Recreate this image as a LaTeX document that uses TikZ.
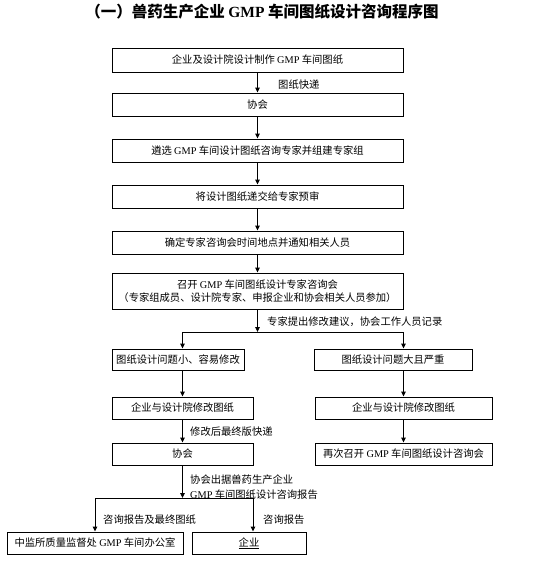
\documentclass[tikz,border=0pt]{standalone}
\usepackage{fontspec}
\setmainfont{Noto Sans CJK SC}
\newfontfamily\lat{Liberation Serif}
\usetikzlibrary{arrows.meta}
\newcommand\G{{\lat GMP}}
\begin{document}
\begin{tikzpicture}[x=1pt,y=-1pt,
 box/.style={draw,line width=0.9pt,inner sep=0pt,align=center,font=\fontsize{10.3}{13}\selectfont},
 lab/.style={inner sep=0pt,anchor=west,align=left,font=\fontsize{10.3}{15}\selectfont},
 arr/.style={line width=0.9pt,-{Triangle[length=5pt,width=4.5pt]}},
 ln/.style={line width=0.9pt}]
\useasboundingbox (0,0) rectangle (550,576);
\fill[white] (0,0) rectangle (550,576);
\node[inner sep=0pt,font=\fontsize{15.5}{18}\bfseries\selectfont] (title) at (262,12) {（一）兽药生产企业 {\lat\bfseries GMP} 车间图纸设计咨询程序图};
\node[box,minimum width=291,minimum height=24] (b1) at (257.5,60) {企业及设计院设计制作 \G{} 车间图纸};
\node[box,minimum width=291,minimum height=23] (b2) at (257.5,104.5) {协会};
\node[box,minimum width=291,minimum height=23] (b3) at (257.5,150.5) {遴选 \G{} 车间设计图纸咨询专家并组建专家组};
\node[box,minimum width=291,minimum height=23] (b4) at (257.5,196.5) {将设计图纸递交给专家预审};
\node[box,minimum width=291,minimum height=23] (b5) at (257.5,242.5) {确定专家咨询会时间地点并通知相关人员};
\node[box,minimum width=291,minimum height=36] (b6) at (257.5,291) {召开 \G{} 车间图纸设计专家咨询会\\（专家组成员、设计院专家、申报企业和协会相关人员参加）};
\node[box,minimum width=132,minimum height=21] (b7) at (178,359.5) {图纸设计问题小、容易修改};
\node[box,minimum width=158,minimum height=21] (b8) at (393,359.5) {图纸设计问题大且严重};
\node[box,minimum width=141,minimum height=22] (b9) at (182.5,408) {企业与设计院修改图纸};
\node[box,minimum width=177,minimum height=22] (b10) at (403.5,408) {企业与设计院修改图纸};
\node[box,minimum width=177,minimum height=22] (b11) at (403.5,454) {再次召开 \G{} 车间图纸设计咨询会};
\node[box,minimum width=141,minimum height=22] (b12) at (182.5,454) {协会};
\node[box,minimum width=176,minimum height=22] (b13) at (95,543) {中监所质量监督处 \G{} 车间办公室};
\node[box,minimum width=114,minimum height=22] (b14) at (249,543) {\underline{企业}};
% labels
\node[lab] (l1) at (278,85) {图纸快递};
\node[lab] (l2) at (267,322) {专家提出修改建议，协会工作人员记录};
\node[lab] (l3) at (190,432) {修改后最终版快递};
\node[lab] (l4) at (190,487.5) {协会出据兽药生产企业\\\G{} 车间图纸设计咨询报告};
\node[lab] (l5) at (103,520) {咨询报告及最终图纸};
\node[lab] (l6) at (263,520) {咨询报告};
% connectors
\draw[arr] (b1) -- (b2);
\draw[arr] (b2) -- (b3);
\draw[arr] (b3) -- (b4);
\draw[arr] (b4) -- (b5);
\draw[arr] (b5) -- (b6);
\coordinate (j1) at (257.5,332);
\draw[arr] (b6) -- (j1);
\draw[ln] (b9.north |- j1) -- (b10.north |- j1);
\draw[arr] (b9.north |- j1) -- (b9.north |- b7.north);
\draw[arr] (b10.north |- j1) -- (b10.north |- b8.north);
\draw[arr] (b9.north |- b7.south) -- (b9.north);
\draw[arr] (b10.north |- b8.south) -- (b10.north);
\draw[arr] (b10) -- (b11);
\draw[arr] (b9) -- (b12);
\coordinate (j2) at (182.5,498);
\coordinate (j2r) at (253,498);
\draw[arr] (b12) -- (j2);
\draw[ln] (b13.north |- j2) -- (j2r);
\draw[arr] (b13.north |- j2) -- (b13.north);
\draw[arr] (j2r) -- (j2r |- b14.north);
\end{tikzpicture}
\end{document}
